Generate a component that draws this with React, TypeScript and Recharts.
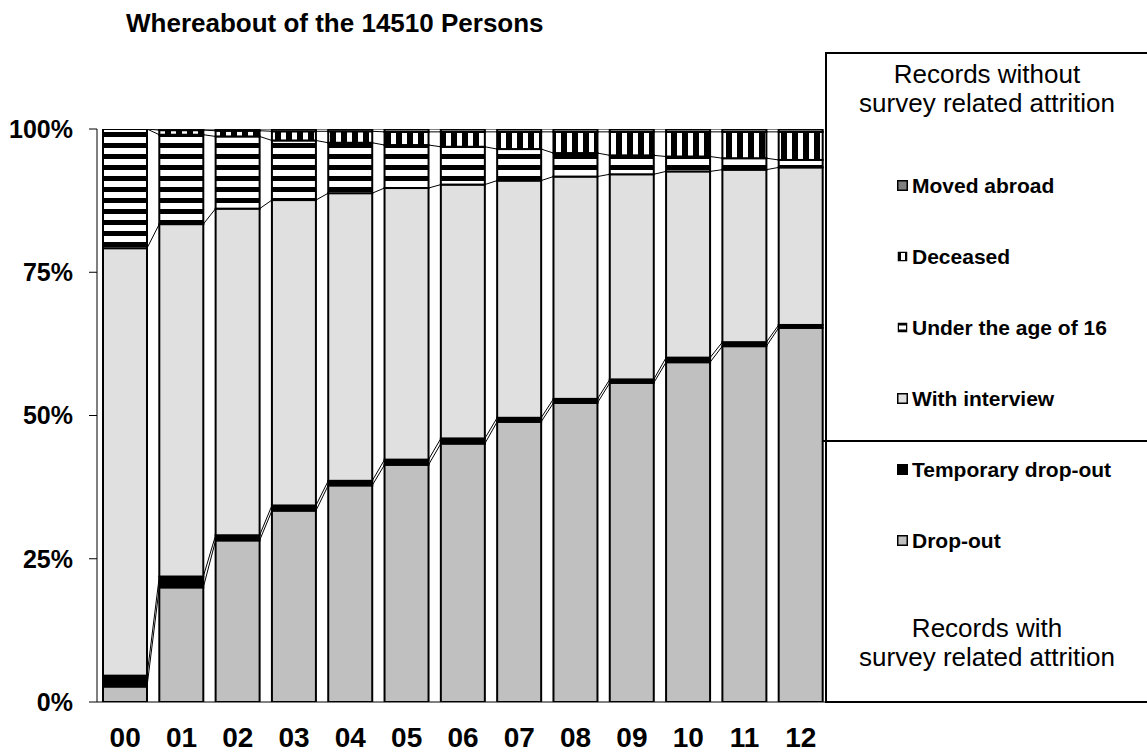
import { BarChart, Bar, XAxis, YAxis } from 'recharts'

const years = ['00', '01', '02', '03', '04', '05', '06', '07', '08', '09', '10', '11', '12']

// shares in percent of the 14510 persons (bottom to top)
const dropOut = [2.7, 20.0, 28.2, 33.4, 37.8, 41.4, 45.1, 48.9, 52.2, 55.7, 59.3, 62.1, 65.3]
const temporaryDropOut = [1.9, 1.9, 0.9, 0.9, 0.8, 0.9, 0.9, 0.7, 0.7, 0.6, 0.8, 0.7, 0.5]
const withInterview = [74.6, 61.5, 57.0, 53.3, 50.2, 47.4, 44.3, 41.4, 38.8, 35.8, 32.5, 30.1, 27.5]
const underAge16 = [20.8, 15.6, 12.6, 10.4, 8.8, 7.5, 6.6, 5.5, 4.1, 3.3, 2.6, 2.0, 1.3]
const deceased = [0, 0.8, 1.0, 1.6, 2.0, 2.3, 2.6, 3.0, 3.7, 4.1, 4.3, 4.6, 4.9]
const movedAbroad = [0, 0.2, 0.3, 0.4, 0.4, 0.5, 0.5, 0.5, 0.5, 0.5, 0.5, 0.5, 0.5]

const yTicks = [0, 25, 50, 75, 100]

const series = [
  { key: 'dropOut', name: 'Drop-out', values: dropOut, fill: '#c0c0c0' },
  { key: 'temporaryDropOut', name: 'Temporary drop-out', values: temporaryDropOut, fill: '#000000' },
  { key: 'withInterview', name: 'With interview', values: withInterview, fill: '#e0e0e0' },
  { key: 'underAge16', name: 'Under the age of 16', values: underAge16, fill: 'url(#hstripe)' },
  { key: 'deceased', name: 'Deceased', values: deceased, fill: 'url(#vstripe)' },
  { key: 'movedAbroad', name: 'Moved abroad', values: movedAbroad, fill: '#808080' },
]

const rows = years.map((year, i) => {
  const row: Record<string, any> = { year }
  series.forEach((s) => (row[s.key] = s.values[i]))
  return row
})

const CHART_W = 1147
const CHART_H = 754
const MARGIN = { top: 129, right: 318, bottom: 0, left: 0 }
const Y_AXIS_W = 97
const X_AXIS_H = 52
const PLOT_TOP = MARGIN.top
const PLOT_H = CHART_H - MARGIN.top - MARGIN.bottom - X_AXIS_H
const PLOT_W = CHART_W - MARGIN.left - MARGIN.right - Y_AXIS_W
const BAND = PLOT_W / years.length

const yPx = (v: number) => PLOT_TOP + PLOT_H * (1 - v / 100)

const cumTop = (i: number, s: number) => {
  let sum = 0
  for (let k = 0; k <= s; k++) sum += series[k].values[i]
  return sum
}

const FONT = '"Liberation Sans", Arial, sans-serif'

function makeShape(s: number) {
  return (props: any) => {
    const { x, y, width, height, index, fill } = props
    const hasNext = index < years.length - 1
    return (
      <g>
        <rect x={x} y={y} width={width} height={Math.max(height, 0)} fill={fill} stroke="#000" strokeWidth={2} />
        {s === 0 && hasNext &&
          series.map((_, k) => (
            <line
              key={k}
              x1={x + width}
              y1={yPx(cumTop(index, k))}
              x2={x + BAND}
              y2={yPx(cumTop(index + 1, k))}
              stroke="#000"
              strokeWidth={1}
            />
          ))}
      </g>
    )
  }
}

function LegendIcon({ k }: { k: string }) {
  const s = series.find((d) => d.key === k)!
  return (
    <svg width={11} height={11} style={{ display: 'block', flex: 'none' }}>
      {k === 'underAge16' ? (
        <>
          <rect x={0.75} y={0.75} width={9.5} height={9.5} fill="#000" />
          <rect x={2} y={3.5} width={7} height={4} fill="#fff" />
        </>
      ) : k === 'deceased' ? (
        <>
          <rect x={0.75} y={0.75} width={9.5} height={9.5} fill="#000" />
          <rect x={4} y={2} width={4} height={7} fill="#fff" />
        </>
      ) : (
        <rect x={0.75} y={0.75} width={9.5} height={9.5} fill={s.fill} stroke="#000" strokeWidth={1.5} />
      )}
    </svg>
  )
}

const legendOrder = [...series].reverse()

export default function App() {
  return (
    <div style={{ position: 'absolute', left: 0, top: 0, width: CHART_W, height: CHART_H, overflow: 'hidden', background: '#fff', fontFamily: FONT }}>
      <div style={{ position: 'absolute', left: 126, top: 10, fontSize: 26, lineHeight: '26px', fontWeight: 'bold', whiteSpace: 'nowrap', color: '#000' }}>
        Whereabout of the 14510 Persons
      </div>
      <BarChart width={CHART_W} height={CHART_H} data={rows} margin={MARGIN} barSize={44}>
        <defs>
          <pattern id="hstripe" patternUnits="userSpaceOnUse" width={8} height={11}>
            <rect width={8} height={11} fill="#fff" />
            <rect width={8} height={5} fill="#000" />
          </pattern>
          <pattern id="vstripe" patternUnits="userSpaceOnUse" width={11} height={8}>
            <rect width={11} height={8} fill="#fff" />
            <rect width={6} height={8} fill="#000" />
          </pattern>
        </defs>
        <XAxis
          dataKey="year"
          height={X_AXIS_H}
          tickLine={false}
          tickSize={0}
          tickMargin={25}
          axisLine={{ stroke: '#000', strokeWidth: 1 }}
          tick={{ fill: '#000', fontSize: 28, fontWeight: 'bold', fontFamily: FONT }}
          interval={0}
        />
        <YAxis
          width={Y_AXIS_W}
          domain={[0, 100]}
          allowDataOverflow
          ticks={yTicks}
          tickFormatter={(v: number) => `${v}%`}
          tickSize={8}
          tickMargin={16}
          axisLine={{ stroke: '#000', strokeWidth: 1 }}
          tickLine={{ stroke: '#000', strokeWidth: 1 }}
          tick={{ fill: '#000', fontSize: 25, fontWeight: 'bold', fontFamily: FONT }}
        />
        {series.map((s, i) => (
          <Bar
            key={s.key}
            dataKey={s.key}
            name={s.name}
            stackId="a"
            fill={s.fill}
            shape={makeShape(i)}
            isAnimationActive={false}
          />
        ))}
      </BarChart>
      <div
        style={{
          position: 'absolute',
          left: 825,
          top: 52,
          width: CHART_W - 825,
          height: 651,
          boxSizing: 'border-box',
          borderTop: '2px solid #000',
          borderLeft: '2px solid #000',
          borderBottom: '2px solid #000',
          background: '#fff',
          color: '#000',
        }}
      >
        <div style={{ position: 'absolute', left: 0, right: 0, top: 6, textAlign: 'center', fontSize: 26, lineHeight: '29px' }}>
          Records without
          <br />
          survey related attrition
        </div>
        <div style={{ position: 'absolute', left: -4, right: 0, top: 386, height: 0, borderTop: '2px solid #000' }} />
        {legendOrder.map((s, i) => (
          <div
            key={s.key}
            style={{
              position: 'absolute',
              left: 70,
              top: 131 + i * 71.1 - 10.5,
              height: 21,
              display: 'flex',
              alignItems: 'center',
              gap: 4,
              fontSize: 21,
              lineHeight: '21px',
              fontWeight: 'bold',
              whiteSpace: 'nowrap',
            }}
          >
            <LegendIcon k={s.key} />
            <span>{s.name}</span>
          </div>
        ))}
        <div style={{ position: 'absolute', left: 0, right: 0, top: 560, textAlign: 'center', fontSize: 26, lineHeight: '29px' }}>
          Records with
          <br />
          survey related attrition
        </div>
      </div>
    </div>
  )
}
